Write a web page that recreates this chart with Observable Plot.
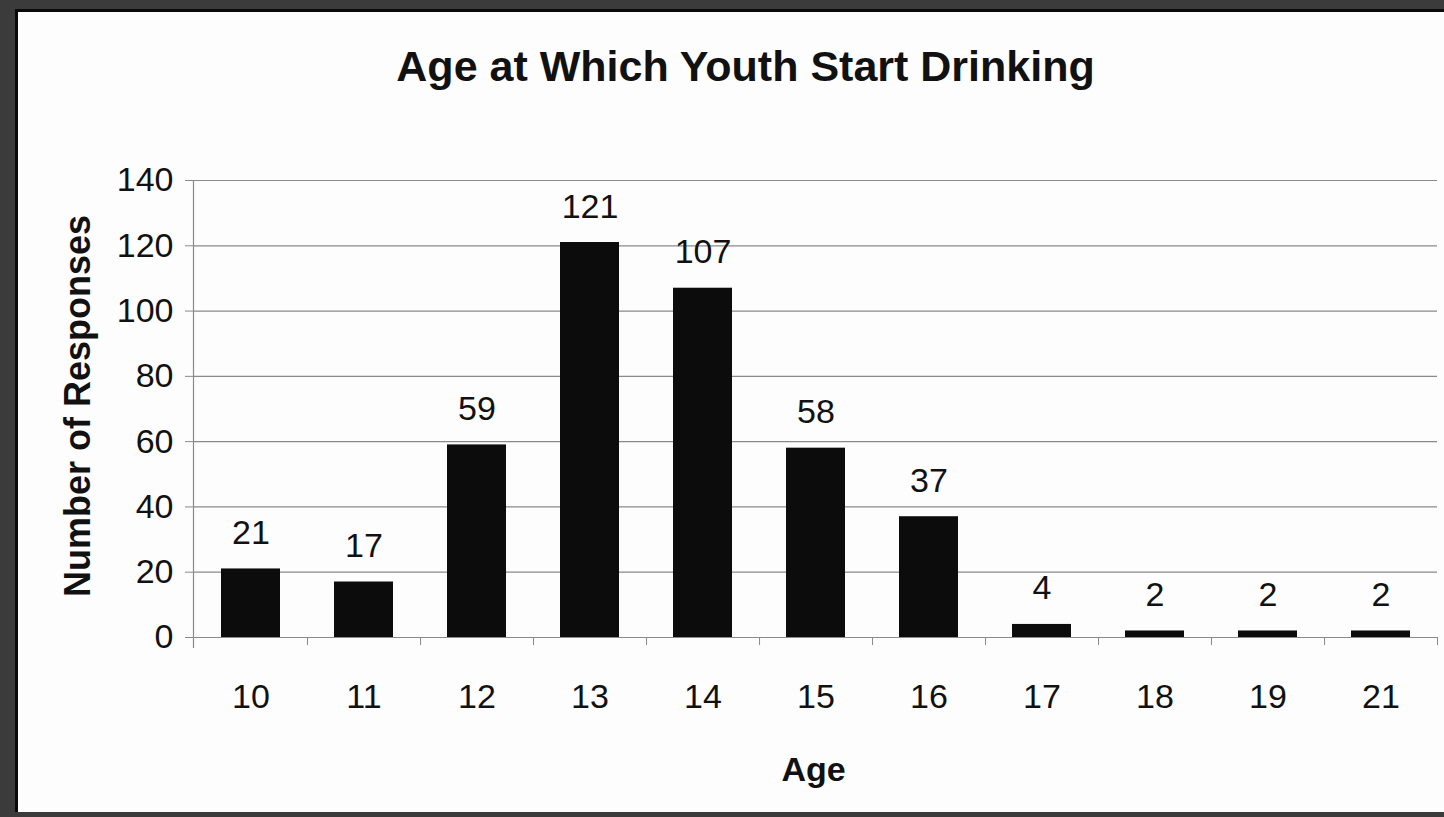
<!DOCTYPE html>
<html>
<head>
<meta charset="utf-8">
<script src="https://cdn.jsdelivr.net/npm/d3@7"></script>
<script src="https://cdn.jsdelivr.net/npm/@observablehq/plot@0.6"></script>
<style>
  html, body { margin: 0; padding: 0; }
  body { width: 1444px; height: 817px; background: #3b3b3b; position: relative; overflow: hidden; font-family: "Liberation Sans", Arial, sans-serif; }
  #paper { position: absolute; left: 15px; top: 9px; right: 0; bottom: 5px; background: #fdfdfd; border-left: 3px solid #0a0a0a; border-top: 3px solid #0a0a0a; }
  #chart { position: absolute; left: 0; top: 0; }
</style>
</head>
<body>
<div id="paper"></div>
<div id="chart"></div>
<script>
const title = "Age at Which Youth Start Drinking";
const xLabel = "Age";
const yLabel = "Number of Responses";
const ages = ["10", "11", "12", "13", "14", "15", "16", "17", "18", "19", "21"];
const responses = [21, 17, 59, 121, 107, 58, 37, 4, 2, 2, 2];
const yTicks = [0, 20, 40, 60, 80, 100, 120, 140];

const data = ages.map((a, i) => ({age: a, n: responses[i]}));

const W = 1444, H = 817;
const mL = 193, mR = 7, mT = 180, mB = 180;
const step = (W - mL - mR) / ages.length;
const ink = "#111";
const grid = "#8a8a8a";
const font = "Liberation Sans, Arial, sans-serif";

const chart = Plot.plot({
  width: W,
  height: H,
  marginLeft: mL,
  marginRight: mR,
  marginTop: mT,
  marginBottom: mB,
  style: {fontFamily: font, color: ink, background: "transparent", overflow: "visible"},
  x: {type: "band", domain: ages, paddingInner: 0.48, paddingOuter: 0.24, label: null},
  y: {domain: [0, 140], label: null},
  marks: [
    Plot.gridY(yTicks, {stroke: grid, strokeOpacity: 1, strokeWidth: 1.2}),
    Plot.frame({anchor: "left", stroke: grid, strokeWidth: 1.2, insetBottom: -10}),
    Plot.axisY({ticks: yTicks, tickSize: 8, tickPadding: 12, stroke: grid, fontSize: 34, fill: ink, label: null}),
    Plot.axisX({ticks: ages, tickSize: 0, tickPadding: 46, fontSize: 34, fill: ink, label: null}),
    Plot.axisX({ticks: ages, tickSize: 8, dx: step / 2, stroke: grid, tickFormat: () => "", label: null}),
    Plot.barY(data, {x: "age", y: "n", fill: "#0c0c0c"}),
    Plot.text(data, {x: "age", y: "n", text: d => String(d.n), dy: -25, lineAnchor: "bottom", fontSize: 34, fill: ink}),
    Plot.text([title], {text: d => d, frameAnchor: "top", dx: -70, dy: -100, lineAnchor: "bottom", textAnchor: "middle", fontSize: 43, fontWeight: "bold", fill: ink}),
    Plot.text([yLabel], {text: d => d, frameAnchor: "left", rotate: -90, dx: -104, dy: -3, lineAnchor: "bottom", textAnchor: "middle", fontSize: 36, fontWeight: "bold", fill: ink}),
    Plot.text([xLabel], {text: d => d, frameAnchor: "bottom", dx: -2, dy: 143, lineAnchor: "bottom", textAnchor: "middle", fontSize: 34, fontWeight: "bold", fill: ink})
  ]
});
document.getElementById("chart").appendChild(chart);
</script>
</body>
</html>
